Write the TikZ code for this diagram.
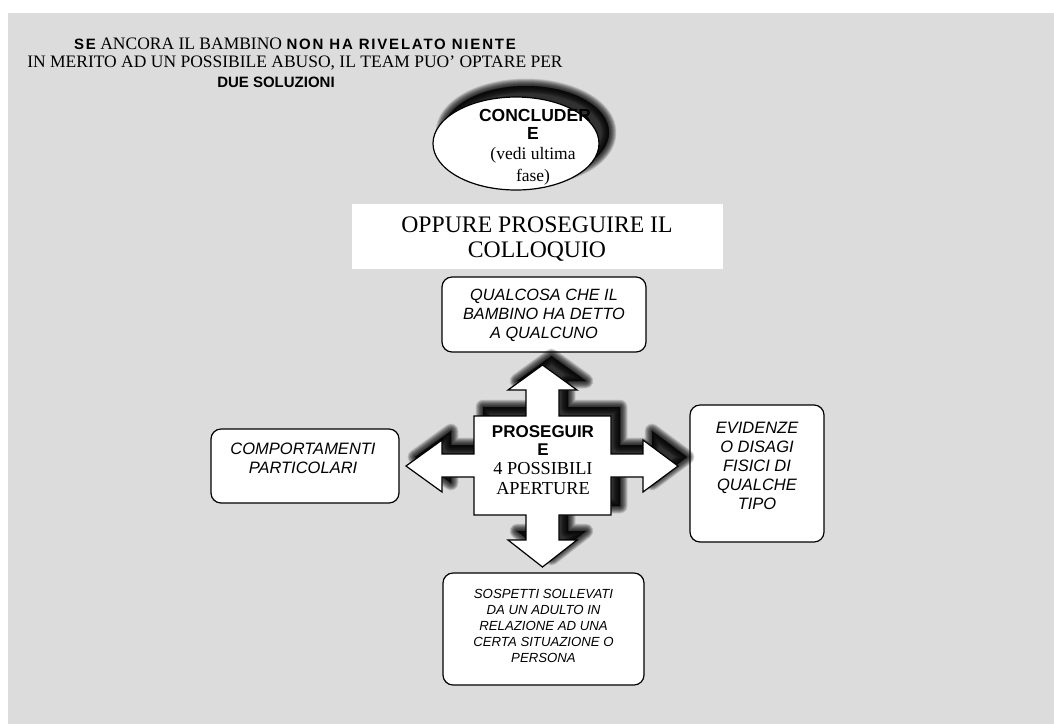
\documentclass[tikz,border=0pt]{standalone}
\usepackage{fontspec}
\setmainfont{Liberation Serif}
\setsansfont{Liberation Sans}
\newfontfamily\spsans[LetterSpace=12]{Liberation Sans}
\definecolor{panel}{HTML}{DCDCDC}
\tikzset{
  card/.style={draw, line width=1.2pt, rounded corners=10pt, fill=white, inner sep=0pt},
  itext/.style={font=\sffamily\itshape, align=center, inner sep=0pt},
  plain/.style={inner sep=0pt, align=center},
}
% four-way arrow around the central box
\newcommand\crossshape[1]{%
  \path[#1] (542.5,365) -- (577,390) -- (559,390) -- (559,416) -- (611,416)
    -- (611,454) -- (643,454) -- (643,440) -- (678,466) -- (643,492) -- (643,477)
    -- (611,477) -- (611,515) -- (559,515) -- (559,540) -- (577,540) -- (542.5,567)
    -- (508,540) -- (526,540) -- (526,515) -- (474,515) -- (474,477) -- (442,477)
    -- (442,492) -- (406,466) -- (442,440) -- (442,454) -- (474,454) -- (474,416)
    -- (526,416) -- (526,390) -- (508,390) -- cycle;}
\newcommand\ovalshape[1]{%
  \path[#1] (516,143.5) ellipse [x radius=83, y radius=46.5];}
% soft shadow: many translucent copies of decreasing width
\newcommand\softshadow[2]{%
  \foreach \w in {15,14,13,12,11,10,9,8,7,6,5,4,3,2,1}{%
    #1{black, fill opacity=0.09, draw opacity=0.09, draw, fill, line width=\w pt,
       line join=round, shift={#2}}}}
\begin{document}
\begin{tikzpicture}[x=1pt, y=-1pt]
\useasboundingbox (0,0) rectangle (1054,724);
\fill[white] (0,0) rectangle (1054,724);
\fill[panel] (8,13) rectangle (1054,724);

% heading
\node[plain, font=\fontsize{17.5}{20}\selectfont] (head1) at (295,44)
  {{\spsans\bfseries\fontsize{15}{19}\selectfont SE} ANCORA IL BAMBINO {\spsans\bfseries\fontsize{15}{19}\selectfont NON HA RIVELATO NIENTE}};
\node[plain, font=\fontsize{17.5}{20}\selectfont] (head2) at (295,63)
  {IN MERITO AD UN POSSIBILE ABUSO, IL TEAM PUO’ OPTARE PER};
\node[plain, font=\sffamily\bfseries\fontsize{15}{19}\selectfont] (head3) at (276,82)
  {DUE SOLUZIONI};

% ellipse with shadow
\softshadow{\ovalshape}{(10,-11)}
\ovalshape{draw=black, line width=1.2pt, fill=white}
\node[plain, font=\sffamily\bfseries\fontsize{17.5}{18}\selectfont] (concl1) at (535,115) {CONCLUDER};
\node[plain, font=\sffamily\bfseries\fontsize{17.5}{18}\selectfont] (concl2) at (533,133) {E};
\node[plain, font=\fontsize{17.5}{20}\selectfont] (concl3) at (533,155) {(vedi ultima};
\node[plain, font=\fontsize{17.5}{20}\selectfont] (concl4) at (533,177) {fase)};

% banner
\node[fill=white, minimum width=371pt, minimum height=65pt, inner sep=0pt] (banner) at (537.5,236.5) {};
\node[plain, font=\fontsize{23.7}{25}\selectfont] (bannertext) at (537,239)
  {OPPURE PROSEGUIRE IL\\COLLOQUIO};

% four outcome boxes
\node[card, minimum width=204pt, minimum height=75pt] (qual) at (544,314.5) {};
\node[itext, font=\sffamily\itshape\fontsize{16.3}{19}\selectfont] (qualtext) at (544,315)
  {QUALCOSA CHE IL\\BAMBINO HA DETTO\\A QUALCUNO};

\node[card, minimum width=188pt, minimum height=74pt] (comp) at (305,466) {};
\node[itext, font=\sffamily\itshape\fontsize{16.5}{19}\selectfont] (comptext) at (303,458)
  {COMPORTAMENTI\\PARTICOLARI};

\node[card, minimum width=134pt, minimum height=137pt] (evid) at (757,473.5) {};
\node[itext, font=\sffamily\itshape\fontsize{16.5}{19}\selectfont] (evidtext) at (757,466)
  {EVIDENZE\\O DISAGI\\FISICI DI\\QUALCHE\\TIPO};

\node[card, minimum width=201pt, minimum height=112pt] (sosp) at (543.5,629) {};
\node[itext, font=\sffamily\itshape\fontsize{13.2}{15.8}\selectfont] (sosptext) at (543.5,626)
  {SOSPETTI SOLLEVATI\\DA UN ADULTO IN\\RELAZIONE AD UNA\\CERTA SITUAZIONE O\\PERSONA};

% central four-way arrow with shadow
\softshadow{\crossshape}{(9,-9)}
\crossshape{draw=black, line width=1.2pt, fill=white, line join=miter}
\node[plain, font=\sffamily\bfseries\fontsize{17}{18}\selectfont] (pros1) at (543,432) {PROSEGUIR};
\node[plain, font=\sffamily\bfseries\fontsize{17}{18}\selectfont] (pros2) at (543,450) {E};
\node[plain, font=\fontsize{18.3}{20}\selectfont] (pros3) at (543,469) {4 POSSIBILI};
\node[plain, font=\fontsize{18.3}{20}\selectfont] (pros4) at (543,489) {APERTURE};
\end{tikzpicture}
\end{document}
